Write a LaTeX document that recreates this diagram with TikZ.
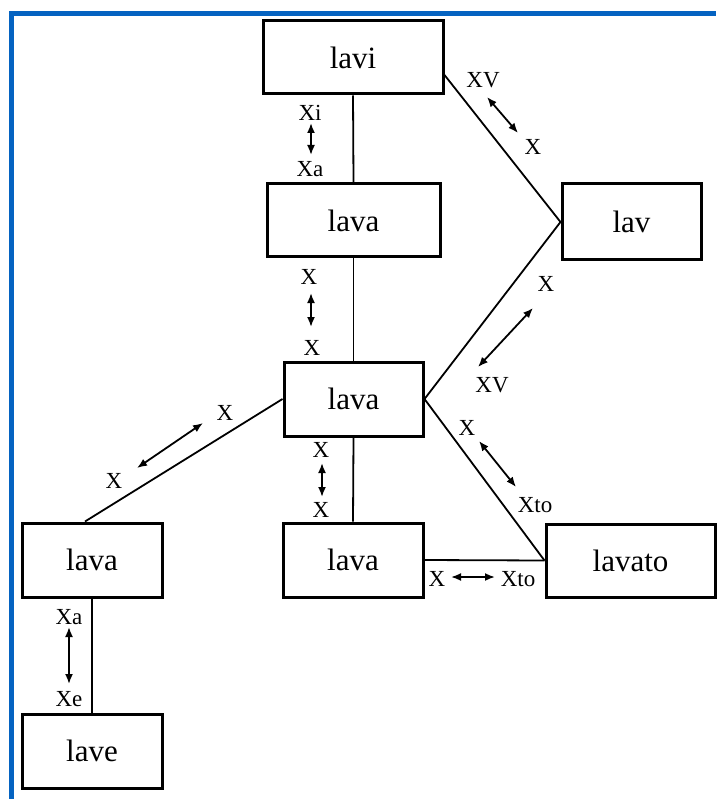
\documentclass[tikz,border=0pt]{standalone}
\usepackage{fontspec}
\setmainfont{Liberation Serif}
\usetikzlibrary{arrows.meta}
\definecolor{frameblue}{RGB}{5,99,193}

\begin{document}
\begin{tikzpicture}[x=1pt,y=-1pt,
    box/.style={draw, line width=3pt, inner sep=0pt, font=\fontsize{31}{36}\selectfont},
    lbl/.style={inner sep=0pt, font=\fontsize{23}{27}\selectfont},
    conn/.style={line width=1.8pt},
    xarrow/.style={line width=1.8pt, {Latex[length=10pt,width=8pt]}-{Latex[length=10pt,width=8pt]}}]
      \useasboundingbox (0,0) rectangle (716,799);
      \draw[frameblue, line width=5pt] (11,799) -- (11,13.5) -- (716,13.5);

      \node[box, minimum width=180pt, minimum height=73pt] (lavi) at (353,57.5) {lavi};
      \node[box, minimum width=173pt, minimum height=73pt] (lavaT) at (353.5,220.5) {lava};
      \node[box, minimum width=139pt, minimum height=76pt] (lav) at (631.5,222) {lav};
      \node[box, minimum width=139pt, minimum height=74pt] (lavaC) at (353.5,399) {lava};
      \node[box, minimum width=140pt, minimum height=74pt] (lavaB) at (353,560) {lava};
      \node[box, minimum width=169pt, minimum height=73pt] (lavato) at (630.5,560.5) {lavato};
      \node[box, minimum width=140pt, minimum height=74pt] (lavaL) at (92,560) {lava};
      \node[box, minimum width=140pt, minimum height=74pt] (lave) at (92,751) {lave};

      \draw[conn] (lavi.south) -- (lavaT.north);
      \draw[conn] (lavaT.south) -- (lavaC.north);
      \draw[conn] (lavaC.south) -- (lavaB.north);
      \draw[conn] (lavaB.east) -- (lavato.west);
      \draw[conn] (lavaC.east) -- (lavato.west);
      \draw[conn] (lavaC.east) -- (lav.west);
      \draw[conn] ([yshift=-17.5pt]lavi.east) -- (lav.west);
      \draw[conn] (lavaC.west) -- ([xshift=-7pt]lavaL.north);
      \draw[conn] (lavaL.south) -- (lave.north);

      \node[lbl] (xi) at (310,113) {Xi};
      \node[lbl] (xa1) at (310,169) {Xa};
      \coordinate (a1s) at (311,123);
      \coordinate (a1e) at (311,155);
      \draw[xarrow] (a1s) -- (a1e);

      \node[lbl] (x1) at (309,277) {X};
      \node[lbl] (x2) at (312,348) {X};
      \coordinate (a2s) at (311,293);
      \coordinate (a2e) at (311,327);
      \draw[xarrow] (a2s) -- (a2e);

      \node[lbl] (x3) at (321,450) {X};
      \node[lbl] (x4) at (321,510) {X};
      \coordinate (a3s) at (322,463);
      \coordinate (a3e) at (322,497);
      \draw[xarrow] (a3s) -- (a3e);

      \node[lbl] (x5) at (437,579) {X};
      \node[lbl] (xto1) at (518,579) {Xto};
      \coordinate (a4s) at (451,577);
      \coordinate (a4e) at (495,577);
      \draw[xarrow] (a4s) -- (a4e);

      \node[lbl] (x6) at (467,428) {X};
      \node[lbl] (xto2) at (535,505) {Xto};
      \coordinate (a5s) at (479,441);
      \coordinate (a5e) at (516,487);
      \draw[xarrow] (a5s) -- (a5e);

      \node[lbl] (xv1) at (483,80) {XV};
      \node[lbl] (x7) at (533,147) {X};
      \coordinate (a6s) at (487,97);
      \coordinate (a6e) at (518,133);
      \draw[xarrow] (a6s) -- (a6e);

      \node[lbl] (x8) at (546,284) {X};
      \node[lbl] (xv2) at (492,385) {XV};
      \coordinate (a7s) at (533,308);
      \coordinate (a7e) at (478,367);
      \draw[xarrow] (a7s) -- (a7e);

      \node[lbl] (x9) at (225,413) {X};
      \node[lbl] (x10) at (114,481) {X};
      \coordinate (a8s) at (203,423);
      \coordinate (a8e) at (137,468);
      \draw[xarrow] (a8s) -- (a8e);

      \node[lbl] (xa2) at (69,617) {Xa};
      \node[lbl] (xe) at (69,699) {Xe};
      \coordinate (a9s) at (69,627);
      \coordinate (a9e) at (69,684);
      \draw[xarrow] (a9s) -- (a9e);
    \end{tikzpicture}
\end{document}
